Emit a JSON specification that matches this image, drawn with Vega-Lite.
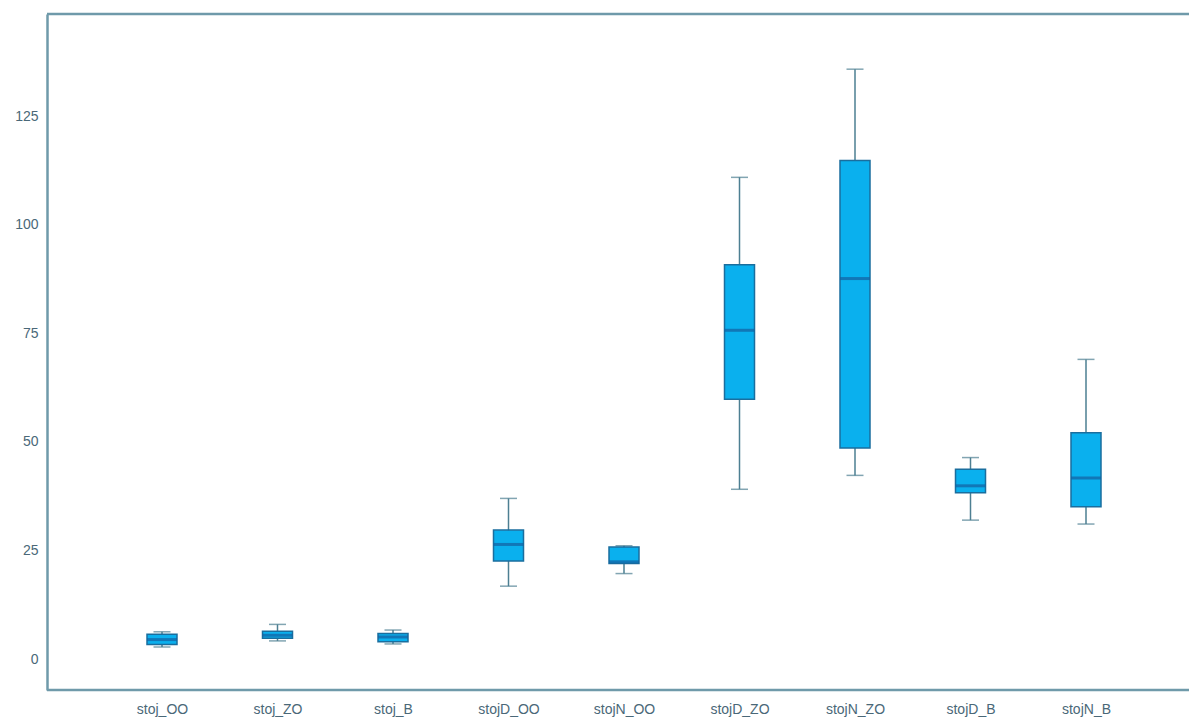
{
  "$schema": "https://vega.github.io/schema/vega-lite/v6.json",
  "width": 1142,
  "height": 676,
  "autosize": "none",
  "padding": {"left": 47, "top": 14, "right": 0, "bottom": 28},
  "background": "white",
  "config": {"view": {"stroke": null}, "font": "Liberation Sans"},
  "data": {
    "values": [
      {"var": "stoj_OO", "lo": 2.8, "q1": 3.4, "med": 4.5, "q3": 5.75, "hi": 6.3},
      {"var": "stoj_ZO", "lo": 4.2, "q1": 4.8, "med": 5.5, "q3": 6.4, "hi": 8.0},
      {"var": "stoj_B", "lo": 3.5, "q1": 4.0, "med": 5.1, "q3": 5.9, "hi": 6.7},
      {"var": "stojD_OO", "lo": 16.8, "q1": 22.6, "med": 26.4, "q3": 29.7, "hi": 37.0},
      {"var": "stojN_OO", "lo": 19.7, "q1": 22.0, "med": 22.4, "q3": 25.8, "hi": 26.1},
      {"var": "stojD_ZO", "lo": 39.1, "q1": 59.8, "med": 75.7, "q3": 90.8, "hi": 110.9},
      {"var": "stojN_ZO", "lo": 42.3, "q1": 48.6, "med": 87.6, "q3": 114.8, "hi": 135.8},
      {"var": "stojD_B", "lo": 32.0, "q1": 38.3, "med": 39.9, "q3": 43.7, "hi": 46.4},
      {"var": "stojN_B", "lo": 31.1, "q1": 35.1, "med": 41.7, "q3": 52.1, "hi": 69.0}
    ]
  },
  "layer": [
    {
      "encoding": {
        "x": {
          "field": "var",
          "type": "nominal",
          "sort": null,
          "scale": {"type": "point", "range": [115, 1039], "padding": 0},
          "axis": {
            "title": null,
            "labelAngle": 0,
            "labelFontSize": 14,
            "labelColor": "#4a6878",
            "labelPadding": 12,
            "ticks": false,
            "domain": false,
            "grid": false
          }
        }
      },
      "layer": [
        {
          "mark": {"type": "rule", "color": "#4d7f92", "strokeWidth": 1.5},
          "encoding": {
            "y": {
              "field": "lo",
              "type": "quantitative",
              "scale": {"domain": [-7.1, 148.5], "nice": false, "zero": false},
              "axis": {
                "title": null,
                "values": [0, 25, 50, 75, 100, 125],
                "grid": false,
                "ticks": false,
                "labelFontSize": 14,
                "labelColor": "#4a6878",
                "labelPadding": 9,
                "domain": true,
                "domainColor": "#6f9aaa",
                "domainWidth": 2.5
              }
            },
            "y2": {"field": "hi"}
          }
        },
        {
          "mark": {"type": "tick", "color": "#4d7f92", "size": 17, "thickness": 1.5},
          "encoding": {"y": {"field": "lo", "type": "quantitative"}}
        },
        {
          "mark": {"type": "tick", "color": "#4d7f92", "size": 17, "thickness": 1.5},
          "encoding": {"y": {"field": "hi", "type": "quantitative"}}
        },
        {
          "mark": {"type": "bar", "size": 30, "fill": "#0ab0ee", "stroke": "#1a6e9e", "strokeWidth": 1.5},
          "encoding": {
            "y": {"field": "q1", "type": "quantitative"},
            "y2": {"field": "q3"}
          }
        },
        {
          "mark": {"type": "tick", "color": "#14609f", "size": 30, "thickness": 3},
          "encoding": {"y": {"field": "med", "type": "quantitative"}}
        }
      ]
    },
    {
      "data": {"values": [{"edge": 148.5}, {"edge": -7.1}]},
      "mark": {"type": "rule", "color": "#6f9aaa", "strokeWidth": 2.5},
      "encoding": {"y": {"field": "edge", "type": "quantitative"}}
    }
  ]
}
